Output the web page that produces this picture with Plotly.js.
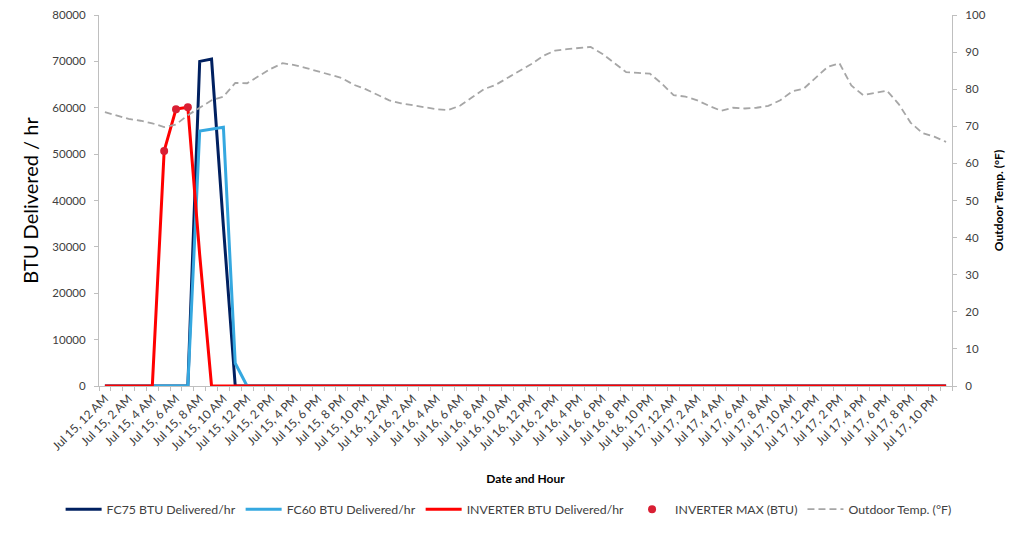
<!DOCTYPE html>
<html>
<head>
<meta charset="utf-8">
<script src="https://cdn.plot.ly/plotly-3.0.1.min.js"></script>
<style>html,body{margin:0;padding:0;background:#fff;}#chart{width:1024px;height:536px;}</style>
</head>
<body>
<div id="chart"></div>
<script>
// ---- data ----
const days = ["Jul 15", "Jul 16", "Jul 17"];
const hourLabels = ["12 AM","1 AM","2 AM","3 AM","4 AM","5 AM","6 AM","7 AM","8 AM","9 AM","10 AM","11 AM",
                    "12 PM","1 PM","2 PM","3 PM","4 PM","5 PM","6 PM","7 PM","8 PM","9 PM","10 PM","11 PM"];
const categories = [];
days.forEach(d => hourLabels.forEach(h => categories.push(d + ", " + h)));

const fc75 = [0,0,0,0,0,0,0,0,70000,70500,34400,0,
              0,0,0,0,0,0,0,0,0,0,0,0,
              0,0,0,0,0,0,0,0,0,0,0,0,
              0,0,0,0,0,0,0,0,0,0,0,0,
              0,0,0,0,0,0,0,0,0,0,0,0,
              0,0,0,0,0,0,0,0,0,0,0,0];
const fc60 = [0,0,0,0,0,0,0,0,55000,55400,55800,4900,
              0,0,0,0,0,0,0,0,0,0,0,0,
              0,0,0,0,0,0,0,0,0,0,0,0,
              0,0,0,0,0,0,0,0,0,0,0,0,
              0,0,0,0,0,0,0,0,0,0,0,0,
              0,0,0,0,0,0,0,0,0,0,0,0];
const inverter = [0,0,0,0,0,50700,59700,60100,28300,0,0,0,
                  0,0,0,0,0,0,0,0,0,0,0,0,
                  0,0,0,0,0,0,0,0,0,0,0,0,
                  0,0,0,0,0,0,0,0,0,0,0,0,
                  0,0,0,0,0,0,0,0,0,0,0,0,
                  0,0,0,0,0,0,0,0,0,0,0,0];
const inverterMaxCats = ["Jul 15, 5 AM", "Jul 15, 6 AM", "Jul 15, 7 AM"];
const inverterMax = [50700, 59700, 60100];
const outdoorTemp = [73.8,73.0,72.0,71.5,70.8,69.8,70.5,73.0,75.0,77.0,78.0,81.7,
                     81.6,83.5,85.5,87.0,86.5,85.7,84.8,84.0,83.0,81.2,80.0,78.5,
                     77.0,76.2,75.6,75.0,74.6,74.4,75.6,77.8,80.0,81.2,83.0,84.8,
                     86.8,89.0,90.4,90.8,91.0,91.4,89.5,87.0,84.6,84.4,84.2,81.5,
                     78.4,78.0,77.0,75.5,74.2,75.0,74.8,75.0,75.5,77.0,79.4,80.2,
                     83.0,86.0,87.0,81.0,78.4,79.0,79.6,76.0,71.0,68.2,67.2,65.8];
const tickText = categories.map((c, i) => (i % 2 === 0 ? c : ""));

// ---- chart ----
const FONT = "Lato, 'Open Sans', sans-serif";
const traces = [
  {x: categories, y: fc75, name: "FC75 BTU Delivered/hr", type: "scatter", mode: "lines",
   line: {color: "#002060", width: 3}},
  {x: categories, y: fc60, name: "FC60 BTU Delivered/hr", type: "scatter", mode: "lines",
   line: {color: "#35a8e0", width: 3}},
  {x: categories, y: inverter, name: "INVERTER BTU Delivered/hr", type: "scatter", mode: "lines",
   line: {color: "#ff0000", width: 3}},
  {x: inverterMaxCats, y: inverterMax, name: "INVERTER MAX (BTU)", type: "scatter", mode: "markers",
   marker: {color: "#d91f33", size: 8}},
  {x: categories, y: outdoorTemp, name: "Outdoor Temp. (°F)", type: "scatter", mode: "lines",
   yaxis: "y2", line: {color: "#a6a6a6", width: 1.8, dash: "7px,4px"}}
];

const layout = {
  width: 1024, height: 536,
  margin: {l: 99, r: 72, t: 15, b: 150},
  paper_bgcolor: "#ffffff", plot_bgcolor: "#ffffff",
  font: {family: FONT, size: 11, color: "#404040"},
  showlegend: true,
  legend: {orientation: "h", x: -0.045, xanchor: "left", y: -0.332, yanchor: "middle",
           font: {family: FONT, size: 12.3, color: "#404040"}, traceorder: "normal", itemwidth: 36},
  xaxis: {
    type: "category", tickmode: "array", tickvals: categories, ticktext: tickText,
    tickson: "boundaries", tickangle: -45, ticks: "outside", ticklen: 4, tickcolor: "#bfbfbf",
    showline: true, linecolor: "#bfbfbf", linewidth: 1, showgrid: false, zeroline: false,
    range: [-0.5, 71.5], tickfont: {family: FONT, size: 12, color: "#404040"},
    title: {text: "<b>Date and Hour</b>", font: {family: FONT, size: 12, color: "#000"}, standoff: 22},
    automargin: false
  },
  yaxis: {
    range: [0, 80000], dtick: 10000, tickformat: "d", showgrid: false, zeroline: false,
    showline: true, linecolor: "#bfbfbf", linewidth: 1, ticks: "outside", ticklen: 4, tickcolor: "#bfbfbf",
    ticklabelstandoff: 6,
    tickfont: {family: FONT, size: 11.5, color: "#404040"},
    title: {text: "BTU Delivered / hr", font: {family: FONT, size: 20, color: "#000"}, standoff: 8},
    automargin: false
  },
  yaxis2: {
    overlaying: "y", side: "right", range: [0, 100], dtick: 10, showgrid: false, zeroline: false,
    showline: true, linecolor: "#bfbfbf", linewidth: 1, ticks: "outside", ticklen: 4, tickcolor: "#bfbfbf",
    ticklabelstandoff: 6,
    tickfont: {family: FONT, size: 11.5, color: "#404040"},
    title: {text: "<b>Outdoor Temp. (°F)</b>", font: {family: FONT, size: 12, color: "#000"}, standoff: 9},
    automargin: false
  }
};

Plotly.newPlot("chart", traces, layout, {displayModeBar: false, staticPlot: true});
</script>
</body>
</html>
